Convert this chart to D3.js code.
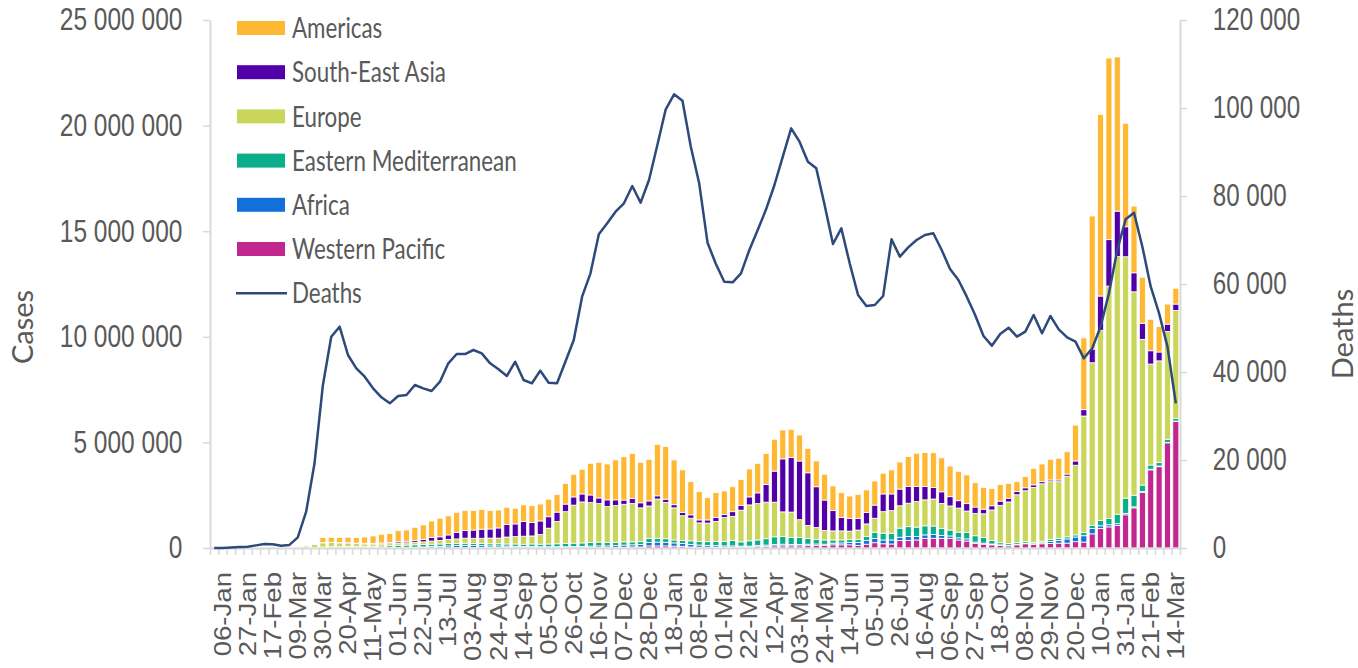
<!DOCTYPE html>
<html>
<head>
<meta charset="utf-8">
<script src="https://cdn.jsdelivr.net/npm/d3@7"></script>
<style>
    body { margin: 0; background: #fff; }
    svg { display: block; font-family: Lato, "Open Sans", sans-serif; }
</style>
</head>
<body>
<svg width="1358" height="668"></svg>
<script>
// weekly cases by WHO region, in millions, 30-Dec-2019 .. 14-Mar-2022 (116 weeks)
var westernPacific = [0, 0, 0.0002, 0.002, 0.012, 0.02, 0.028, 0.012, 0.004, 0.003,
    0.002, 0.003, 0.005, 0.01, 0.01, 0.01, 0.01, 0.005, 0.005, 0.005,
    0.005, 0.005, 0.005, 0.006, 0.006, 0.006, 0.008, 0.01, 0.01, 0.02,
    0.025, 0.03, 0.03, 0.03, 0.03, 0.03, 0.02, 0.02, 0.02, 0.02,
    0.02, 0.02, 0.02, 0.02, 0.02, 0.03, 0.03, 0.03, 0.03, 0.04,
    0.05, 0.05, 0.1, 0.1, 0.1, 0.09, 0.08, 0.05, 0.04, 0.04,
    0.04, 0.04, 0.04, 0.04, 0.04, 0.06, 0.07, 0.1, 0.1, 0.1,
    0.1, 0.11, 0.12, 0.12, 0.15, 0.15, 0.15, 0.12, 0.18, 0.25,
    0.2, 0.19, 0.35, 0.35, 0.38, 0.46, 0.46, 0.46, 0.46, 0.38,
    0.33, 0.22, 0.18, 0.15, 0.12, 0.1, 0.15, 0.2, 0.17, 0.2,
    0.21, 0.23, 0.23, 0.3, 0.28, 0.67, 0.93, 1.0, 1.07, 1.57,
    1.9, 2.64, 3.7, 3.85, 4.98, 5.99];

var africa = [0, 0, 0, 0, 0, 0, 0, 0, 0, 0,
    0.0005, 0.001, 0.002, 0.005, 0.01, 0.01, 0.01, 0.01, 0.012, 0.015,
    0.018, 0.02, 0.025, 0.03, 0.035, 0.045, 0.06, 0.07, 0.09, 0.1,
    0.1, 0.09, 0.08, 0.07, 0.07, 0.06, 0.06, 0.05, 0.05, 0.04,
    0.04, 0.04, 0.04, 0.05, 0.05, 0.06, 0.07, 0.07, 0.08, 0.1,
    0.1, 0.12, 0.16, 0.18, 0.17, 0.15, 0.13, 0.12, 0.1, 0.08,
    0.07, 0.06, 0.06, 0.05, 0.05, 0.06, 0.07, 0.07, 0.08, 0.07,
    0.07, 0.07, 0.07, 0.06, 0.08, 0.09, 0.12, 0.14, 0.17, 0.2,
    0.18, 0.19, 0.16, 0.19, 0.16, 0.16, 0.18, 0.13, 0.11, 0.1,
    0.1, 0.06, 0.05, 0.04, 0.03, 0.03, 0.03, 0.03, 0.03, 0.05,
    0.1, 0.13, 0.2, 0.22, 0.3, 0.25, 0.12, 0.1, 0.08, 0.07,
    0.05, 0.04, 0.03, 0.03, 0.02, 0.02];

var easternMed = [0, 0, 0, 0, 0, 0, 0, 0, 0.002, 0.01,
    0.01, 0.01, 0.015, 0.03, 0.04, 0.04, 0.05, 0.05, 0.055, 0.06,
    0.07, 0.08, 0.1, 0.1, 0.11, 0.11, 0.11, 0.11, 0.11, 0.1,
    0.1, 0.1, 0.1, 0.1, 0.1, 0.1, 0.11, 0.11, 0.12, 0.12,
    0.13, 0.14, 0.15, 0.16, 0.17, 0.17, 0.18, 0.17, 0.16, 0.15,
    0.14, 0.13, 0.2, 0.18, 0.17, 0.14, 0.15, 0.17, 0.17, 0.18,
    0.2, 0.22, 0.25, 0.2, 0.25, 0.26, 0.3, 0.36, 0.36, 0.33,
    0.33, 0.27, 0.22, 0.2, 0.15, 0.14, 0.14, 0.15, 0.19, 0.3,
    0.32, 0.32, 0.43, 0.47, 0.45, 0.43, 0.4, 0.34, 0.28, 0.27,
    0.3, 0.3, 0.27, 0.16, 0.1, 0.08, 0.08, 0.08, 0.07, 0.07,
    0.1, 0.1, 0.1, 0.1, 0.15, 0.15, 0.26, 0.3, 0.45, 0.72,
    0.55, 0.3, 0.2, 0.18, 0.15, 0.12];

var europe = [0, 0, 0, 0, 0, 0, 0, 0, 0.001, 0.01,
    0.04, 0.09, 0.14, 0.2, 0.2, 0.18, 0.16, 0.14, 0.12, 0.11,
    0.1, 0.1, 0.1, 0.11, 0.12, 0.13, 0.15, 0.17, 0.19, 0.21,
    0.24, 0.24, 0.25, 0.27, 0.27, 0.33, 0.35, 0.38, 0.38, 0.46,
    0.75, 1.06, 1.51, 1.8, 1.94, 1.89, 1.82, 1.69, 1.74, 1.78,
    1.82, 1.6, 1.53, 1.86, 1.72, 1.52, 1.17, 1.07, 0.88, 0.88,
    0.95, 1.12, 1.15, 1.5, 1.7, 1.72, 1.73, 1.64, 1.17, 1.2,
    0.84, 0.62, 0.56, 0.45, 0.43, 0.43, 0.39, 0.44, 0.6, 0.66,
    1.02, 1.07, 1.06, 1.11, 1.21, 1.23, 1.28, 1.18, 1.14, 1.14,
    1.02, 1.06, 1.12, 1.45, 1.77, 1.97, 2.26, 2.4, 2.6, 2.72,
    2.73, 2.68, 2.87, 3.3, 5.52, 7.7, 9.0, 11.0, 12.2, 11.43,
    9.63, 6.9, 4.78, 4.8, 5.1, 5.12];

var seAsia = [0, 0, 0, 0, 0, 0, 0, 0, 0, 0,
    0.001, 0.001, 0.002, 0.01, 0.01, 0.015, 0.02, 0.025, 0.03, 0.035,
    0.045, 0.055, 0.065, 0.075, 0.09, 0.11, 0.17, 0.17, 0.22, 0.31,
    0.36, 0.39, 0.43, 0.43, 0.48, 0.6, 0.6, 0.69, 0.64, 0.64,
    0.54, 0.44, 0.36, 0.39, 0.38, 0.36, 0.27, 0.32, 0.27, 0.2,
    0.24, 0.24, 0.24, 0.15, 0.15, 0.15, 0.16, 0.16, 0.14, 0.15,
    0.18, 0.14, 0.22, 0.22, 0.38, 0.51, 0.84, 1.47, 2.51, 2.59,
    2.78, 2.49, 1.93, 1.44, 0.96, 0.63, 0.6, 0.55, 0.54, 0.62,
    0.84, 0.79, 0.79, 0.79, 0.71, 0.63, 0.55, 0.55, 0.44, 0.35,
    0.35, 0.3, 0.22, 0.2, 0.2, 0.18, 0.15, 0.14, 0.12, 0.1,
    0.08, 0.08, 0.1, 0.2, 0.3, 0.65, 1.62, 2.2, 2.15, 1.42,
    0.9, 0.76, 0.63, 0.42, 0.35, 0.3];

var americas = [0, 0, 0, 0, 0, 0, 0, 0, 0, 0.001,
    0.005, 0.03, 0.02, 0.24, 0.24, 0.25, 0.26, 0.27, 0.3, 0.345,
    0.41, 0.42, 0.525, 0.53, 0.62, 0.69, 0.78, 0.88, 0.9, 0.95,
    0.945, 0.92, 0.94, 0.87, 0.85, 0.81, 0.74, 0.79, 0.79, 0.8,
    0.83, 0.84, 0.98, 1.07, 1.17, 1.5, 1.69, 1.7, 1.89, 2.05,
    2.13, 1.92, 1.97, 2.44, 2.49, 2.12, 2.01, 1.57, 1.34, 1.05,
    1.18, 1.12, 1.18, 1.24, 1.32, 1.4, 1.47, 1.51, 1.37, 1.33,
    1.23, 1.16, 1.22, 1.22, 1.17, 1.18, 1.06, 1.14, 1.07, 1.14,
    0.98, 1.14, 1.28, 1.42, 1.58, 1.61, 1.64, 1.61, 1.45, 1.39,
    1.36, 1.15, 1.03, 0.82, 0.79, 0.7, 0.47, 0.53, 0.78, 0.84,
    0.98, 1.03, 1.06, 1.7, 3.4, 6.3, 8.6, 8.6, 7.3, 4.9,
    3.16, 2.18, 1.49, 1.2, 0.95, 0.75];

// weekly deaths, all regions
var deaths = [0, 0, 100, 200, 300, 600, 900, 850, 500, 700,
    2430, 8250, 19250, 37000, 48000, 50300, 43860, 40840, 38940, 36290,
    34240, 32880, 34550, 34770, 37050, 36290, 35680, 37800, 41970, 44090,
    44090, 45000, 44240, 41970, 40610, 39090, 42340, 38180, 37430, 40300,
    37570, 37430, 42340, 47270, 57120, 62430, 71300, 73790, 76430, 78340,
    82270, 78480, 83640, 91590, 99700, 103100, 101660, 91210, 82880, 69390,
    64540, 60530, 60380, 62430, 67730, 72270, 76970, 82500, 88940, 95380,
    92350, 87800, 86290, 77950, 69090, 72650, 64700, 57500, 55000, 55230,
    57270, 70150, 66210, 68330, 70000, 71140, 71520, 67730, 63410, 60910,
    57120, 52950, 48180, 45980, 48640, 50070, 48030, 49170, 52950, 48790,
    52730, 49700, 47880, 46890, 43110, 45380, 50300, 57880, 67730, 74700,
    76210, 68480, 59390, 53330, 45760, 32880];

var casesTicks = [0, 5, 10, 15, 20, 25];
var deathsTicks = [0, 20000, 40000, 60000, 80000, 100000, 120000];

// stack order, bottom to top
var regions = ["Western Pacific", "Africa", "Eastern Mediterranean", "Europe", "South-East Asia", "Americas"];
var regionValues = [westernPacific, africa, easternMed, europe, seAsia, americas];
var regionColors = ["#c2278f", "#1470d9", "#0aae8b", "#c9d65b", "#5100a8", "#ffb833"];

var weeks = d3.timeMonday.range(new Date(2019, 11, 30), new Date(2022, 2, 15));

var svg = d3.select("svg"),
    plotLeft = 210, plotRight = 1180, plotTop = 20, plotBottom = 548;

var textColor = "#595959", axisColor = "#d9d9d9";
var spaced = function (v) { return d3.format(",")(v).replace(/,/g, " "); };
var dayMonth = d3.timeFormat("%d-%b");

var x = d3.scaleBand()
    .domain(d3.range(weeks.length))
    .range([plotLeft, plotRight])
    .paddingInner(0.28)
    .paddingOuter(0.14);
var yCases = d3.scaleLinear().domain([0, 25]).range([plotBottom, plotTop]);
var yDeaths = d3.scaleLinear().domain([0, 120000]).range([plotBottom, plotTop]);

// table for the stack
var rows = weeks.map(function (w, i) {
    var r = { i: i };
    regions.forEach(function (name, k) { r[name] = regionValues[k][i]; });
    return r;
});
var series = d3.stack().keys(regions)(rows);

//draw stacked bars
var layers = svg.append("g").selectAll("g")
    .data(series)
    .enter().append("g")
    .attr("fill", function (d, k) { return regionColors[k]; });

layers.selectAll("rect")
    .data(function (d) { return d.filter(function (s) { return s[1] > s[0]; }); })
    .enter().append("rect")
    .attr("x", function (d) { return x(d.data.i); })
    .attr("y", function (d) { return yCases(d[1]); })
    .attr("width", x.bandwidth())
    .attr("height", function (d) { return yCases(d[0]) - yCases(d[1]); })
    .attr("stroke", "#fff")
    .attr("stroke-width", 0.8);

//small tick marks between every week
var xEdges = d3.scaleLinear().domain([0, weeks.length]).range([plotLeft, plotRight]);
svg.append("g")
    .attr("transform", "translate(0," + plotBottom + ")")
    .call(d3.axisBottom(xEdges).tickValues(d3.range(weeks.length + 1)).tickSize(7).tickSizeOuter(0).tickFormat(""))
    .call(function (g) {
        g.select(".domain").attr("stroke", axisColor).attr("stroke-width", 2);
        g.selectAll(".tick line").attr("stroke", axisColor).attr("stroke-width", 1.5);
    });

//date labels, every third week
svg.append("g")
    .attr("transform", "translate(0," + plotBottom + ")")
    .call(d3.axisBottom(x)
        .tickValues(d3.range(weeks.length).filter(function (i) { return i % 3 === 1; }))
        .tickSize(0)
        .tickFormat(function (i) { return dayMonth(weeks[i]); }))
    .call(function (g) {
        g.select(".domain").remove();
        g.selectAll("text")
            .attr("fill", textColor)
            .attr("font-size", "23px")
            .attr("text-anchor", "end")
            .attr("transform", "rotate(-90) scale(1.2,1)")
            .attr("x", -20)
            .attr("y", 0)
            .attr("dy", "0.35em");
    });

//left axis: cases
svg.append("g")
    .attr("transform", "translate(" + plotLeft + ",0)")
    .call(d3.axisLeft(yCases).tickValues(casesTicks).tickSize(7).tickSizeOuter(0)
        .tickFormat(function (v) { return spaced(v * 1e6); }))
    .call(function (g) {
        g.select(".domain").attr("stroke", axisColor).attr("stroke-width", 2);
        g.selectAll(".tick line").attr("stroke", axisColor).attr("stroke-width", 1.5);
        g.selectAll("text")
            .attr("fill", textColor)
            .attr("font-size", "31px")
            .attr("x", -35)
            .attr("dy", "0.32em")
            .attr("transform", "scale(0.79,1)");
    });

//right axis: deaths
svg.append("g")
    .attr("transform", "translate(" + plotRight + ",0)")
    .call(d3.axisRight(yDeaths).tickValues(deathsTicks).tickSize(7).tickSizeOuter(0).tickFormat(spaced))
    .call(function (g) {
        g.select(".domain").attr("stroke", axisColor).attr("stroke-width", 2);
        g.selectAll(".tick line").attr("stroke", axisColor).attr("stroke-width", 1.5);
        g.selectAll("text")
            .attr("fill", textColor)
            .attr("font-size", "31px")
            .attr("x", 42)
            .attr("dy", "0.32em")
            .attr("transform", "scale(0.78,1)");
    });

//deaths line
var line = d3.line()
    .x(function (d, i) { return x(i) + x.bandwidth() / 2; })
    .y(function (d) { return yDeaths(d); });

svg.append("path")
    .datum(deaths)
    .attr("fill", "none")
    .attr("stroke", "#2d4a7a")
    .attr("stroke-width", 2.5)
    .attr("stroke-linejoin", "round")
    .attr("d", line);

//axis titles
svg.append("text")
    .attr("transform", "translate(33,327) rotate(-90)")
    .attr("text-anchor", "middle")
    .attr("fill", textColor)
    .attr("font-size", "29px")
    .text("Cases");

svg.append("text")
    .attr("transform", "translate(1353,334) rotate(-90)")
    .attr("text-anchor", "middle")
    .attr("fill", textColor)
    .attr("font-size", "29px")
    .text("Deaths");

//legend
var legendItems = regions.slice().reverse().concat(["Deaths"]);
var legend = svg.append("g").selectAll("g")
    .data(legendItems)
    .enter().append("g")
    .attr("transform", function (d, i) { return "translate(237," + (28 + i * 44.2) + ")"; });

legend.filter(function (d) { return d !== "Deaths"; })
    .append("rect")
    .attr("x", 0)
    .attr("y", -7)
    .attr("width", 48)
    .attr("height", 14)
    .attr("fill", function (d) { return regionColors[regions.indexOf(d)]; });

legend.filter(function (d) { return d === "Deaths"; })
    .append("line")
    .attr("x1", -1)
    .attr("x2", 50)
    .attr("stroke", "#2d4a7a")
    .attr("stroke-width", 2.5);

legend.append("text")
    .attr("x", 55 / 0.785)
    .attr("dy", "0.36em")
    .attr("transform", "scale(0.785,1)")
    .attr("fill", textColor)
    .attr("font-size", "28.5px")
    .text(function (d) { return d; });
</script>
</body>
</html>
